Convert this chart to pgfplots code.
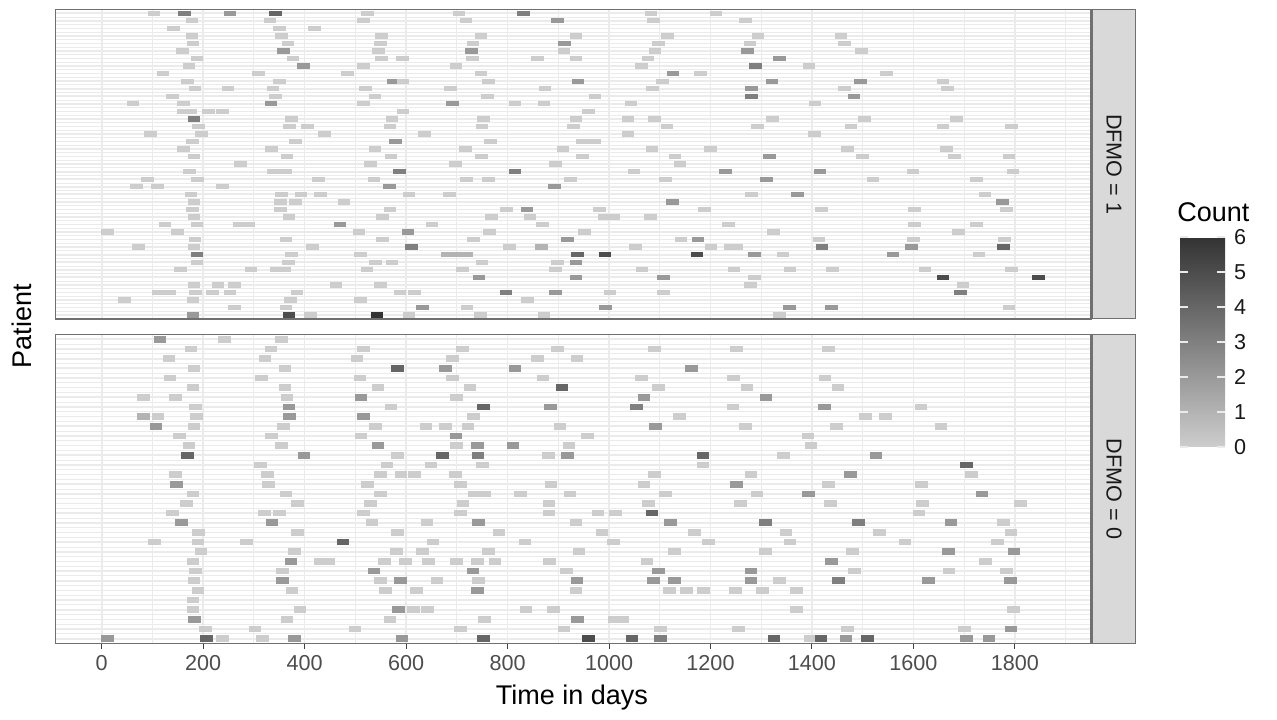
\documentclass[border=0pt]{standalone}
\usepackage{fontspec}
\setmainfont{Liberation Sans}
\usepackage{pgfplots}
\pgfplotsset{compat=1.18}
\definecolor{tickgrey}{HTML}{4D4D4D}
\definecolor{framegrey}{HTML}{707070}
\definecolor{stripgrey}{HTML}{D9D9D9}
\definecolor{gridgrey}{HTML}{EBEBEB}

% tiles: 25 days wide, 0.7 of a row high
\pgfdeclareplotmark{tiletop}{\pgfpathrectangle{\pgfqpoint{-3.15pt}{-1.33pt}}{\pgfqpoint{6.3pt}{2.66pt}}\pgfusepathqfill}
\pgfdeclareplotmark{tilebot}{\pgfpathrectangle{\pgfqpoint{-3.15pt}{-1.67pt}}{\pgfqpoint{6.3pt}{3.34pt}}\pgfusepathqfill}

\pgfplotsset{
  /pgf/number format/assume math mode=true,
  /pgf/number format/1000 sep={},
  colormap={cnt}{rgb255(0cm)=(205,205,205); rgb255(6cm)=(51,51,51)},
  panel/.style={
    scale only axis, width=517.75pt, xmin=-91, xmax=1950,
    y dir=reverse, enlargelimits=false,
    xtick={0,200,...,1800}, minor xtick={100,300,...,1900},
    yticklabels={}, minor y tick num=1,
    grid=both,
    major grid style={draw=gridgrey, line width=0.85pt},
    minor grid style={draw=gridgrey, line width=0.45pt},
    axis line style={draw=framegrey, line width=0.8pt},
    ytick style={draw=none}, minor tick length=0pt,
    point meta min=0, point meta max=6,
    tick label style={font=\fontsize{10.8}{12}\selectfont, text=tickgrey},
  },
  tiles/.style={scatter, only marks, point meta=explicit},
}

\begin{document}
\begin{tikzpicture}
\useasboundingbox (0,0) rectangle (638.5pt,-359.5pt);

% DFMO = 1
\begin{axis}[panel, at={(27.75pt,-4.75pt)}, anchor=north west, height=154.65pt,
  ymin=-0.5, ymax=40.5, ytick={0,...,40},
  xticklabels={}, xtick style={draw=none},
  colorbar, colorbar/width=22.5pt,
  colorbar style={
    at={(parent axis.south east)}, anchor=north west, xshift=35.96pt, yshift=40.9pt,
    scale only axis, width=22.5pt, height=105pt,
    ytick={0,1,...,6}, ytick pos=both, yticklabel pos=right,
    tick align=inside, major tick length=4pt,
    ytick style={draw=white!92!black, line width=0.7pt},
    axis line style={draw=none},
    yticklabel style={font=\fontsize{10.8}{12}\selectfont, text=black!90, xshift=1pt},
  },
]
\addplot[tiles, mark=tiletop] coordinates {
(103,0)[0] (163,0)[3] (253,0)[2] (343,0)[4] (524,0)[0] (704,0)[0] (832,0)[3] (1083,0)[0] (1211,0)[0]
(178,1)[0] (332,1)[0] (516,1)[0] (718,1)[0] (898,1)[2] (1088,1)[0] (1269,1)[0]
(141,2)[0] (350,2)[0] (419,2)[0]
(178,3)[0] (355,3)[0] (551,3)[0] (748,3)[0] (935,3)[0] (1115,3)[0] (1294,3)[0] (1457,3)[0]
(180,4)[0] (367,4)[0] (550,4)[0] (732,4)[0] (912,4)[2] (1098,4)[0] (1278,4)[0] (1464,4)[0]
(159,5)[0] (358,5)[2] (546,5)[0] (729,5)[2] (911,5)[0] (1091,5)[0] (1273,5)[2] (1498,5)[0]
(188,6)[0] (377,6)[0] (552,6)[0] (593,6)[0] (731,6)[0] (859,6)[0] (935,6)[0] (1077,6)[0] (1336,6)[2]
(172,7)[0] (398,7)[2] (516,7)[0] (698,7)[0] (1064,7)[0] (1289,7)[3] (1394,7)[0]
(121,8)[0] (309,8)[0] (485,8)[0] (748,8)[0] (1126,8)[2] (1180,8)[0] (1547,8)[0]
(169,9)[0] (350,9)[0] (575,9)[2] (594,9)[0] (763,9)[0] (939,9)[2] (1105,9)[0] (1321,9)[2] (1496,9)[2] (1658,9)[0]
(184,10)[0] (249,10)[0] (338,10)[0] (520,10)[0] (687,10)[0] (874,10)[0] (1086,10)[0] (1281,10)[2] (1464,10)[0] (1667,10)[0]
(140,11)[0] (343,11)[0] (539,11)[0] (760,11)[0] (972,11)[0] (1281,11)[3] (1483,11)[2]
(62,12)[0] (161,12)[0] (334,12)[2] (516,12)[0] (691,12)[2] (815,12)[0] (872,12)[0] (1043,12)[0] (1406,12)[0]
(161,13)[0] (175,13)[0] (210,13)[0] (238,13)[0] (594,13)[0] (960,13)[0]
(182,14)[3] (374,14)[0] (572,14)[0] (752,14)[0] (935,14)[0] (1037,14)[0] (1090,14)[0] (1322,14)[0] (1503,14)[0] (1685,14)[0]
(191,15)[0] (370,15)[0] (406,15)[0] (568,15)[0] (750,15)[0] (930,15)[0] (1114,15)[0] (1293,15)[0] (1477,15)[0] (1658,15)[0] (1793,15)[0]
(96,16)[0] (197,16)[0] (439,16)[0] (636,16)[0] (1037,16)[0] (1405,16)[0]
(179,17)[0] (382,17)[0] (579,17)[2] (766,17)[0] (948,17)[0] (972,17)[0]
(161,18)[0] (335,18)[0] (539,18)[0] (717,18)[0] (909,18)[0] (1085,18)[0] (1200,18)[0] (1470,18)[0] (1665,18)[0]
(182,19)[0] (365,19)[0] (570,19)[0] (749,19)[0] (948,19)[0] (1130,19)[0] (1316,19)[2] (1499,19)[0] (1681,19)[0] (1788,19)[0]
(274,20)[0] (530,20)[0] (697,20)[0] (895,20)[0] (1140,20)[0]
(173,21)[0] (339,21)[0] (363,21)[0] (587,21)[3] (815,21)[3] (1049,21)[0] (1229,21)[2] (1416,21)[2] (1599,21)[0] (1796,21)[0]
(90,22)[0] (189,22)[0] (427,22)[0] (537,22)[0] (719,22)[0] (763,22)[0] (924,22)[0] (1111,22)[0] (1310,22)[2] (1520,22)[0] (1724,22)[0]
(69,23)[0] (110,23)[0] (238,23)[0] (567,23)[2] (892,23)[2]
(176,24)[0] (355,24)[0] (393,24)[0] (431,24)[0] (606,24)[0] (685,24)[0] (1281,24)[0] (1372,24)[2] (1741,24)[0]
(182,25)[0] (353,25)[0] (382,25)[0] (478,25)[0] (1125,25)[2] (1775,25)[2]
(179,26)[0] (353,26)[0] (568,26)[0] (798,26)[0] (838,26)[2] (981,26)[0] (1188,26)[0] (1419,26)[0] (1602,26)[0] (1783,26)[0]
(182,27)[0] (369,27)[0] (553,27)[0] (768,27)[0] (844,27)[0] (991,27)[0] (1010,27)[0] (1082,27)[0]
(125,28)[0] (188,28)[0] (271,28)[0] (289,28)[0] (470,28)[2] (651,28)[0] (869,28)[0] (1236,28)[0] (1602,28)[0] (1724,28)[0]
(12,29)[0] (150,29)[0] (507,29)[0] (604,29)[2] (765,29)[0] (952,29)[0] (1324,29)[0] (1689,29)[0]
(184,30)[0] (363,30)[0] (553,30)[0] (733,30)[0] (918,30)[2] (1142,30)[0] (1175,30)[2] (1414,30)[0] (1600,30)[0] (1779,30)[0]
(73,31)[0] (182,31)[0] (415,31)[0] (611,31)[3] (804,31)[0] (867,31)[1] (1052,31)[0] (1201,31)[0] (1239,31)[0] (1252,31)[0] (1420,31)[3] (1596,31)[2] (1778,31)[4]
(188,32)[3] (374,32)[0] (510,32)[0] (682,32)[1] (701,32)[1] (719,32)[1] (938,32)[4] (992,32)[5] (1173,32)[5] (1287,32)[2] (1343,32)[0] (1560,32)[2] (1729,32)[0]
(188,33)[0] (368,33)[0] (540,33)[0] (572,33)[0] (750,33)[0] (899,33)[0] (935,33)[2]
(155,34)[0] (294,34)[0] (344,34)[0] (361,34)[0] (523,34)[0] (711,34)[0] (894,34)[0] (1065,34)[0] (1246,34)[0] (1357,34)[0] (1440,34)[0] (1623,34)[0] (1793,34)[0]
(744,35)[2] (935,35)[2] (1107,35)[2] (1287,35)[0] (1658,35)[5] (1847,35)[5]
(182,36)[0] (229,36)[0] (262,36)[0] (462,36)[0] (549,36)[0] (1279,36)[0] (1698,36)[0]
(111,37)[0] (135,37)[0] (185,37)[0] (219,37)[0] (253,37)[0] (385,37)[0] (588,37)[0] (617,37)[0] (797,37)[3] (895,37)[2] (1002,37)[0] (1107,37)[0] (1693,37)[3]
(45,38)[0] (180,38)[0] (372,38)[0] (510,38)[0] (839,38)[0]
(262,39)[0] (363,39)[0] (632,39)[2] (720,39)[0] (993,39)[2] (1356,39)[2] (1439,39)[2] (1788,39)[0]
(180,40)[2] (369,40)[5] (412,40)[0] (543,40)[6] (606,40)[0] (747,40)[0] (872,40)[0] (1336,40)[0]
};
\end{axis}

% DFMO = 0
\begin{axis}[panel, at={(27.75pt,-167.25pt)}, anchor=north west, height=154.5pt,
  ymin=-0.5, ymax=31.5, ytick={0,...,31},
  xtick pos=bottom, tick align=outside, major tick length=2.5pt,
  xtick style={draw=black!75, line width=0.5pt},
]
\addplot[tiles, mark=tilebot] coordinates {
(115,0)[2] (242,0)[0] (355,0)[0]
(176,1)[0] (334,1)[0] (516,1)[0] (711,1)[0] (899,1)[0] (1090,1)[0] (1251,1)[0] (1432,1)[0]
(133,2)[0] (322,2)[0] (503,2)[0] (691,2)[0] (859,2)[0] (937,2)[0]
(182,3)[0] (361,3)[0] (583,3)[4] (678,3)[2] (815,3)[2] (1163,3)[2]
(135,4)[0] (315,4)[0] (509,4)[0] (691,4)[0] (870,4)[0] (1064,4)[0] (1245,4)[0] (1426,4)[0]
(180,5)[0] (361,5)[0] (545,5)[0] (726,5)[0] (907,5)[4] (1098,5)[0] (1272,5)[0] (1451,5)[0]
(82,6)[0] (146,6)[0] (365,6)[0] (511,6)[2] (699,6)[0] (1069,6)[2] (1309,6)[2]
(185,7)[0] (369,7)[2] (570,7)[0] (752,7)[4] (885,7)[2] (1054,7)[3] (1244,7)[0] (1425,7)[2] (1615,7)[0]
(82,8)[1] (111,8)[0] (187,8)[0] (370,8)[2] (516,8)[2] (733,8)[0] (1139,8)[0] (1505,8)[0] (1545,8)[0]
(107,9)[2] (182,9)[0] (358,9)[0] (540,9)[0] (639,9)[0] (678,9)[0] (722,9)[0] (903,9)[0] (1092,9)[2] (1269,9)[0] (1448,9)[0] (1654,9)[0]
(153,10)[0] (335,10)[0] (511,10)[0] (698,10)[2] (957,10)[0] (1392,10)[0]
(172,11)[0] (355,11)[0] (545,11)[2] (699,11)[0] (741,11)[2] (811,11)[2] (921,11)[0] (1398,11)[0]
(169,12)[4] (399,12)[2] (583,12)[0] (672,12)[4] (742,12)[3] (881,12)[0] (918,12)[2] (1185,12)[4] (1344,12)[0] (1526,12)[2]
(313,13)[0] (562,13)[0] (649,13)[0] (751,13)[0] (1185,13)[0] (1704,13)[4]
(146,14)[0] (327,14)[0] (550,14)[0] (590,14)[0] (617,14)[0] (697,14)[0] (1090,14)[0] (1280,14)[0] (1476,14)[2] (1714,14)[0]
(147,15)[2] (329,15)[0] (524,15)[0] (707,15)[0] (886,15)[0] (1069,15)[0] (1251,15)[2] (1433,15)[0] (1616,15)[0]
(180,16)[0] (363,16)[0] (550,16)[0] (735,16)[0] (755,16)[0] (825,16)[0] (923,16)[0] (1111,16)[0] (1292,16)[0] (1393,16)[2] (1735,16)[2]
(167,17)[0] (386,17)[0] (530,17)[0] (712,17)[0] (882,17)[0] (1078,17)[0] (1259,17)[0] (1436,17)[0] (1618,17)[0] (1811,17)[0]
(140,18)[0] (321,18)[0] (350,18)[0] (516,18)[0] (707,18)[0] (882,18)[0] (978,18)[0] (1013,18)[0] (1085,18)[4] (1611,18)[0]
(157,19)[2] (336,19)[2] (533,19)[0] (641,19)[0] (743,19)[2] (935,19)[0] (1121,19)[2] (1308,19)[3] (1492,19)[3] (1674,19)[2] (1778,19)[0]
(191,20)[0] (386,20)[0] (583,20)[0] (783,20)[0] (986,20)[0] (1169,20)[0] (1349,20)[0] (1533,20)[0] (1792,20)[0]
(104,21)[0] (190,21)[0] (286,21)[0] (476,21)[4] (653,21)[0] (834,21)[0] (1009,21)[0] (1196,21)[0] (1357,21)[0] (1583,21)[0] (1766,21)[0]
(196,22)[0] (380,22)[0] (581,22)[0] (632,22)[0] (763,22)[0] (941,22)[0] (1129,22)[0] (1308,22)[0] (1480,22)[0] (1669,22)[2] (1798,22)[2]
(180,23)[0] (373,23)[2] (430,23)[0] (448,23)[0] (558,23)[0] (599,23)[0] (644,23)[0] (699,23)[0] (741,23)[0] (775,23)[0] (883,23)[0] (1075,23)[0] (1439,23)[2] (1742,23)[0]
(185,24)[0] (357,24)[0] (537,24)[2] (732,24)[2] (916,24)[0] (1098,24)[2] (1280,24)[2] (1484,24)[0] (1670,24)[0] (1783,24)[0]
(182,25)[0] (357,25)[2] (550,25)[0] (589,25)[2] (661,25)[0] (743,25)[0] (937,25)[2] (1088,25)[2] (1129,25)[2] (1280,25)[2] (1336,25)[0] (1452,25)[3] (1630,25)[2] (1791,25)[2]
(190,26)[0] (375,26)[0] (560,26)[0] (621,26)[0] (741,26)[2] (935,26)[0] (1119,26)[0] (1153,26)[0] (1186,26)[0] (1249,26)[0] (1302,26)[0] (1369,26)[0]
(180,27)[0]
(180,28)[0] (391,28)[0] (585,28)[2] (615,28)[0] (642,28)[0] (836,28)[0] (891,28)[0] (1370,28)[0] (1797,28)[0]
(183,29)[2] (365,29)[0] (568,29)[0] (755,29)[0] (938,29)[2] (1010,29)[0] (1026,29)[0]
(205,30)[0] (302,30)[0] (499,30)[0] (707,30)[0] (911,30)[0] (1102,30)[0] (1255,30)[0] (1470,30)[0] (1701,30)[0] (1792,30)[2]
(12,31)[2] (207,31)[4] (238,31)[0] (317,31)[0] (380,31)[2] (592,31)[2] (752,31)[4] (959,31)[5] (1045,31)[4] (1102,31)[3] (1325,31)[4] (1396,31)[0] (1418,31)[4] (1467,31)[2] (1509,31)[4] (1704,31)[2] (1749,31)[2]
};
\end{axis}

% facet strips
\draw[draw=framegrey, line width=0.6pt, fill=stripgrey] (546.25pt,-4.75pt) rectangle (567.75pt,-159.4pt);
\draw[draw=framegrey, line width=0.6pt, fill=stripgrey] (546.25pt,-167.25pt) rectangle (567.75pt,-321.75pt);
\node[rotate=-90, font=\fontsize{10.8}{12}\selectfont, text=black!90] at (557pt,-82.1pt) {DFMO = 1};
\node[rotate=-90, font=\fontsize{10.8}{12}\selectfont, text=black!90] at (557pt,-244.5pt) {DFMO = 0};

% titles
\node[font=\fontsize{13.5}{15}\selectfont] at (286pt,-348.5pt) {Time in days};
\node[rotate=90, font=\fontsize{13.5}{15}\selectfont] at (11pt,-163pt) {Patient};
\node[anchor=base west, inner sep=0pt, font=\fontsize{13.5}{15}\selectfont] at (588.5pt,-110.5pt) {Count};
\end{tikzpicture}
\end{document}
